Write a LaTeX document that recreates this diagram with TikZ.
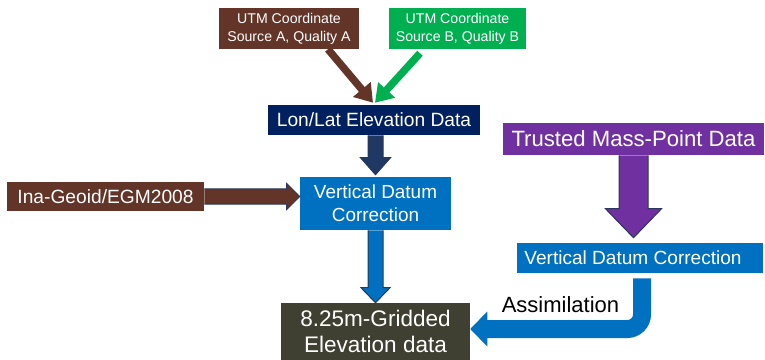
\documentclass[tikz,border=0pt]{standalone}
\usepackage{fontspec}
\setmainfont{Liberation Sans}
\usetikzlibrary{calc,arrows.meta}
\definecolor{brownc}{RGB}{98,53,40}
\definecolor{greenc}{RGB}{0,176,80}
\definecolor{navyc}{RGB}{0,32,96}
\definecolor{navyarrow}{RGB}{31,56,100}
\definecolor{bluec}{RGB}{0,112,192}
\definecolor{purplec}{RGB}{112,48,160}
\definecolor{olivec}{RGB}{64,64,50}
\definecolor{outl}{RGB}{40,55,90}
\begin{document}
\begin{tikzpicture}[x=0.75pt,y=-0.75pt,
  box/.style={inner sep=0pt, align=center, text=white},
  barrow/.style={draw=outl, line width=0.75pt, line join=miter},
  sarrow/.style={line width=5.6pt, -{Triangle[width=16.5pt,length=13pt]}},
]
\useasboundingbox (0,0) rectangle (765,360);
% boxes
\node[box, fill=brownc, minimum width=105pt, minimum height=30.75pt, font=\fontsize{10.6}{13.5}\selectfont] (utmA) at (289,28.5) {UTM Coordinate\\Source A, Quality A};
\node[box, fill=greenc, minimum width=102.75pt, minimum height=30.75pt, font=\fontsize{10.6}{13.5}\selectfont] (utmB) at (457.5,28.5) {UTM Coordinate\\Source B, Quality B};
\node[box, fill=navyc, minimum width=159pt, minimum height=22.5pt, font=\fontsize{14.4}{17}\selectfont] (lonlat) at (374,120) {Lon/Lat Elevation Data};
\node[box, fill=bluec, minimum width=113.25pt, minimum height=39.75pt, font=\fontsize{14.2}{17}\selectfont] (vdc) at (375.5,203.5) {Vertical Datum\\Correction};
\node[box, fill=brownc, minimum width=147.75pt, minimum height=21.75pt, font=\fontsize{14.4}{17}\selectfont] (ina) at (105.5,196.5) {Ina-Geoid/EGM2008};
\node[box, fill=olivec, minimum width=141.75pt, minimum height=42.75pt, font=\fontsize{16.9}{19.5}\selectfont] (grid) at (375.5,331.5) {8.25m-Gridded\\Elevation data};
\node[box, fill=purplec, minimum width=195.75pt, minimum height=24pt, font=\fontsize{16.6}{19}\selectfont] (trusted) at (633.5,139) {Trusted Mass-Point Data};
\node[inner sep=0pt, text=white, fill=bluec, minimum width=184.5pt, minimum height=22.5pt, font=\fontsize{14.3}{17}\selectfont] (vdc2) at (640,258) {Vertical Datum Correction\hspace*{10.5pt}};
\node[inner sep=0pt, text=black, font=\fontsize{16.5}{19}\selectfont] (assim) at (560.5,305) {Assimilation};
% thin arrows from UTM sources
\draw[sarrow, brownc] ($(utmA.south)+(39,0)$) -- ($(lonlat.north)+(-1,-2)$);
\draw[sarrow, greenc] ($(utmB.south)+(-37.5,4)$) -- ($(lonlat.north)+(1,-2)$);
% block arrow lonlat -> vdc
\draw[barrow, fill=navyarrow] ($(lonlat.south -| vdc.north)+(-7.5,0)$) -- ($(vdc.north)+(-7.5,-19)$) -- ($(vdc.north)+(-15,-19)$) -- ($(vdc.north)+(0,-2)$) -- ($(vdc.north)+(15,-19)$) -- ($(vdc.north)+(7.5,-19)$) -- ($(lonlat.south -| vdc.north)+(7.5,0)$);
% block arrow vdc -> grid
\draw[barrow, fill=bluec] ($(vdc.south)+(-7.5,0)$) -- ($(grid.north)+(-7.5,-15)$) -- ($(grid.north)+(-14.5,-15)$) -- (grid.north) -- ($(grid.north)+(14.5,-15)$) -- ($(grid.north)+(7.5,-15)$) -- ($(vdc.south)+(7.5,0)$);
% block arrow ina -> vdc
\draw[barrow, fill=brownc] ($(ina.east)+(0,-7.5)$) -- ($(ina.east -| vdc.west)+(-13,-7.5)$) -- ($(ina.east -| vdc.west)+(-13,-13)$) -- (ina.east -| vdc.west) -- ($(ina.east -| vdc.west)+(-13,13)$) -- ($(ina.east -| vdc.west)+(-13,7.5)$) -- ($(ina.east)+(0,7.5)$);
% block arrow trusted -> vdc2
\draw[barrow, fill=purplec] ($(trusted.south)+(-14.5,0)$) -- ($(trusted.south |- vdc2.north)+(-14.5,-34)$) -- ($(trusted.south |- vdc2.north)+(-28,-34)$) -- ($(trusted.south |- vdc2.north)+(0,-5)$) -- ($(trusted.south |- vdc2.north)+(28,-34)$) -- ($(trusted.south |- vdc2.north)+(14.5,-34)$) -- ($(trusted.south)+(14.5,0)$);
% curved assimilation arrow vdc2 -> grid
\draw[bluec, line width=13.5pt, rounded corners=11pt] ($(vdc2.south)+(2,5)$) |- ($(grid.east)+(16,-2.5)$);
\fill[bluec] ($(grid.east)+(17,-20)$) -- ($(grid.east)+(0,-2.5)$) -- ($(grid.east)+(17,15)$) -- cycle;
\end{tikzpicture}
\end{document}
